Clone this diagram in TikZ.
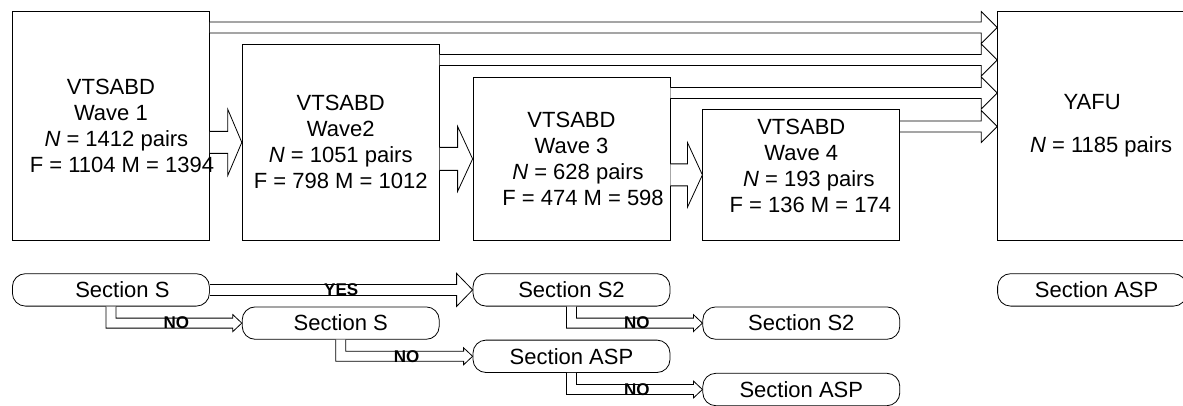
\documentclass[tikz,border=0pt]{standalone}
\usepackage{fontspec}
\setmainfont{Liberation Sans}
\usetikzlibrary{positioning, calc}
\tikzset{
  wave/.style = {rectangle, draw, minimum width=197pt, align=center, inner sep=2pt, font=\fontsize{22}{26}\selectfont},
  sect/.style = {rectangle, draw, rounded corners=13pt, minimum width=197pt, minimum height=32.4pt, inner sep=2pt, font=\fontsize{22}{26}\selectfont},
  fatline/.style = {draw, fill=white, line width=0.8pt},
  lbl/.style = {font=\fontsize{17}{20}\selectfont\bfseries, inner sep=0pt},
}
% shift a line sideways without changing its width
\newcommand{\nudge}[2]{\kern#1\relax#2\kern-#1\relax}
% block arrow: tail x from #1, tip at #2, half shaft #3, half head #4, head length #5
\newcommand{\fatarrow}[5]{%
  \draw[fatline] let \p1=(#1), \p2=(#2) in
    (\x1,\y2+#3) -- (\x2-#5,\y2+#3) -- (\x2-#5,\y2+#4) -- (\x2,\y2)
    -- (\x2-#5,\y2-#4) -- (\x2-#5,\y2-#3) -- (\x1,\y2-#3);}
% elbow block arrow from the bottom of #1 to the left side of #2
\newcommand{\elbowarrow}[2]{%
  \draw[fatline] let \p1=(#1.south), \p2=(#2.west) in
    (\x1-5pt,\y1) -- (\x1-5pt,\y2-5pt) -- (\x2-9pt,\y2-5pt) -- (\x2-9pt,\y2-8.5pt)
    -- (\x2,\y2) -- (\x2-9pt,\y2+8.5pt) -- (\x2-9pt,\y2+5pt) -- (\x1+5pt,\y2+5pt) -- (\x1+5pt,\y1);}

\begin{document}
\begin{tikzpicture}[x=1pt, y=1pt, line width=0.8pt]
    \useasboundingbox (0,0) rectangle (1183,-406);

    % Waves
    \node (w1) [wave, minimum height=229pt, anchor=north west] at (12,-11) {VTSABD\\Wave 1\\\nudge{5.5pt}{\textit{N} = 1412 pairs}\\\nudge{11pt}{F = 1104 M = 1394}};
    \node (w2) [wave, minimum height=196pt, right=32pt of w1.south east, anchor=south west] {VTSABD\\Wave2\\\textit{N} = 1051 pairs\\F = 798 M = 1012};
    \node (w3) [wave, minimum height=163pt, right=33pt of w2.south east, anchor=south west] {VTSABD\\Wave 3\\\nudge{6.5pt}{\textit{N} = 628 pairs}\\\nudge{11.5pt}{F = 474 M = 598}};
    \node (w4) [wave, minimum height=131pt, right=32pt of w3.south east, anchor=south west] {VTSABD\\Wave 4\\\nudge{7.5pt}{\textit{N} = 193 pairs}\\\nudge{9pt}{F = 136 M = 174}\\[-7pt]\mbox{}};
    \node (yafu) [wave, minimum width=189pt, minimum height=229pt, right=97pt of w4.south east, anchor=south west] {YAFU\\[17pt]\nudge{9pt}{\textit{N} = 1185 pairs}};

    % Sections
    \node (sS) [sect, below=32.5pt of w1] {\nudge{11.5pt}{Section S}};
    \node (sS2) [sect, below=32.5pt of w3] {Section S2};
    \node (sASP) [sect, minimum width=189pt, below=32.5pt of yafu] {\nudge{4.5pt}{Section ASP}};
    \node (sSb) [sect, anchor=north] at (w2.south |- sS.south) {Section S};
    \node (sS2b) [sect, anchor=north] at (w4.south |- sS2.south) {Section S2};
    \node (sASPb) [sect, anchor=north] at (w3.south |- sSb.south) {Section ASP};
    \node (sASPc) [sect, anchor=north] at (w4.south |- sASPb.south) {Section ASP};

    % Arrows between waves
    \fatarrow{w1.east}{w2.west}{11pt}{33pt}{14pt}
    \fatarrow{w2.east}{w3.west}{11.5pt}{32.5pt}{15pt}
    \fatarrow{w3.east}{w4.west}{11pt}{32.5pt}{15pt}
    \foreach \w/\d in {w1/16.5, w2/16, w3/16, w4/17.5}
      \fatarrow{\w.east}{$(yafu.west |- \w.north)+(0,-\d)$}{5.5pt}{16pt}{16pt};

    % Arrows between sections
    \fatarrow{sS.east}{sS2.west}{5.5pt}{16.5pt}{16pt}
    \node (yes) [lbl] at ($(sS.east)!0.5!(sS2.west)$) {YES};
    \elbowarrow{sS}{sSb}
    \elbowarrow{sSb}{sASPb}
    \elbowarrow{sS2}{sS2b}
    \elbowarrow{sASPb}{sASPc}
    \foreach \a/\b/\n in {sS/sSb/no1, sSb/sASPb/no2, sS2/sS2b/no3, sASPb/sASPc/no4}
      \node (\n) [lbl] at ($(\a.south |- \b.west)!0.5!(\b.west)$) {NO};

\end{tikzpicture}
\end{document}
